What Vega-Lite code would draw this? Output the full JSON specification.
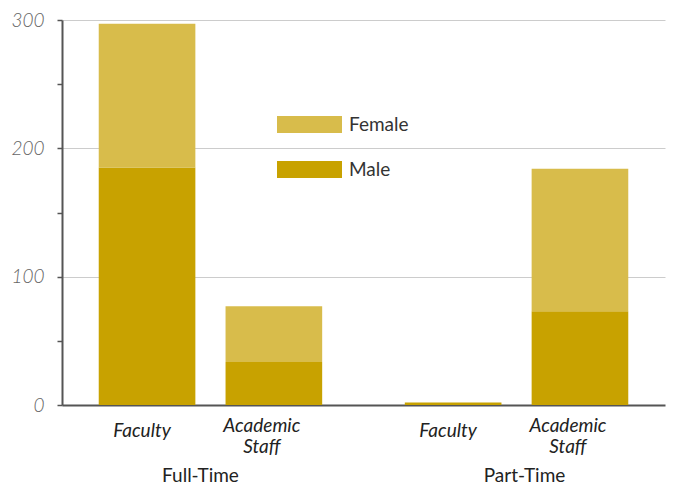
{
  "$schema": "https://vega.github.io/schema/vega-lite/v6.json",
  "width": 603,
  "height": 385,
  "autosize": {"type": "none"},
  "padding": {"left": 62, "top": 20, "right": 11, "bottom": 80},
  "background": "white",
  "config": {
    "view": {"stroke": null},
    "font": "Lato"
  },
  "layer": [
    {
      "data": {
        "values": [
          {"group": "Full-Time", "type": "Faculty", "sex": "Male", "count": 185},
          {"group": "Full-Time", "type": "Faculty", "sex": "Female", "count": 112},
          {"group": "Full-Time", "type": "Academic Staff", "sex": "Male", "count": 33.5},
          {"group": "Full-Time", "type": "Academic Staff", "sex": "Female", "count": 43.5},
          {"group": "Part-Time", "type": "Faculty", "sex": "Male", "count": 2},
          {"group": "Part-Time", "type": "Faculty", "sex": "Female", "count": 0},
          {"group": "Part-Time", "type": "Academic Staff", "sex": "Male", "count": 73},
          {"group": "Part-Time", "type": "Academic Staff", "sex": "Female", "count": 111}
        ]
      },
      "mark": {"type": "bar"},
      "encoding": {
        "x": {
          "field": "group",
          "type": "nominal",
          "sort": ["Full-Time", "Part-Time"],
          "scale": {"paddingInner": 0.27, "paddingOuter": 0.12},
          "axis": {
            "title": null,
            "labelAngle": 0,
            "ticks": false,
            "domainColor": "#555",
            "domainWidth": 2,
            "labelFont": "Lato",
            "labelFontSize": 19,
            "labelColor": "#222",
            "labelPadding": 61,
            "labelOffset": {"condition": {"test": "datum.value === 'Full-Time'", "value": -10}, "value": 8}
          }
        },
        "xOffset": {
          "field": "type",
          "type": "nominal",
          "sort": ["Faculty", "Academic Staff"],
          "scale": {"paddingInner": 0.238, "paddingOuter": 0}
        },
        "y": {
          "field": "count",
          "type": "quantitative",
          "stack": "zero",
          "scale": {"domain": [0, 300], "nice": false, "zero": true},
          "axis": {
            "title": null,
            "values": [0, 50, 100, 150, 200, 250, 300],
            "labelExpr": "datum.value % 100 === 0 ? datum.label : ''",
            "domainColor": "#555",
            "domainWidth": 2,
            "tickColor": "#555",
            "tickWidth": 1.5,
            "tickSize": 5,
            "labelFont": "Lato",
            "labelFontStyle": "italic",
            "labelFontWeight": 300,
            "labelFontSize": 19,
            "labelColor": "#666",
            "labelPadding": 13,
            "grid": true,
            "gridColor": "#cccccc",
            "gridWidth": 1,
            "gridOpacity": {"condition": {"test": "datum.value % 100 === 0 && datum.value > 0", "value": 1}, "value": 0}
          }
        },
        "color": {
          "field": "sex",
          "type": "nominal",
          "scale": {"domain": ["Female", "Male"], "range": ["#D8BC4B", "#C8A200"]},
          "legend": {
            "orient": "none",
            "direction": "vertical",
            "legendX": 215,
            "legendY": 82,
            "title": null,
            "symbolType": "M-1,-0.26H1V0.26H-1Z",
            "symbolSize": 4225,
            "symbolStrokeWidth": 0,
            "clipHeight": 45,
            "rowPadding": 0,
            "labelFont": "Lato",
            "labelFontSize": 19,
            "labelColor": "#333",
            "labelOffset": 7
          }
        },
        "order": {"field": "sex", "sort": "descending"}
      }
    },
    {
      "data": {
        "values": [
          {"group": "Full-Time", "type": "Faculty", "label": "Faculty"},
          {"group": "Part-Time", "type": "Faculty", "label": "Faculty"}
        ]
      },
      "mark": {
        "type": "text",
        "font": "Lato",
        "fontStyle": "italic",
        "fontSize": 19,
        "color": "#222",
        "baseline": "middle",
        "align": "center",
        "dy": 26,
        "dx": -5
      },
      "encoding": {
        "x": {"field": "group", "type": "nominal", "sort": ["Full-Time", "Part-Time"]},
        "xOffset": {"field": "type", "type": "nominal", "sort": ["Faculty", "Academic Staff"]},
        "y": {"datum": 0},
        "text": {"field": "label"}
      }
    },
    {
      "data": {
        "values": [
          {"group": "Full-Time", "type": "Academic Staff", "label": "Academic\nStaff"},
          {"group": "Part-Time", "type": "Academic Staff", "label": "Academic\nStaff"}
        ]
      },
      "mark": {
        "type": "text",
        "lineBreak": "\n",
        "font": "Lato",
        "fontStyle": "italic",
        "fontSize": 19,
        "color": "#222",
        "baseline": "middle",
        "align": "center",
        "dy": 21,
        "dx": -12,
        "lineHeight": 21
      },
      "encoding": {
        "x": {"field": "group", "type": "nominal", "sort": ["Full-Time", "Part-Time"]},
        "xOffset": {"field": "type", "type": "nominal", "sort": ["Faculty", "Academic Staff"]},
        "y": {"datum": 0},
        "text": {"field": "label"}
      }
    }
  ]
}
